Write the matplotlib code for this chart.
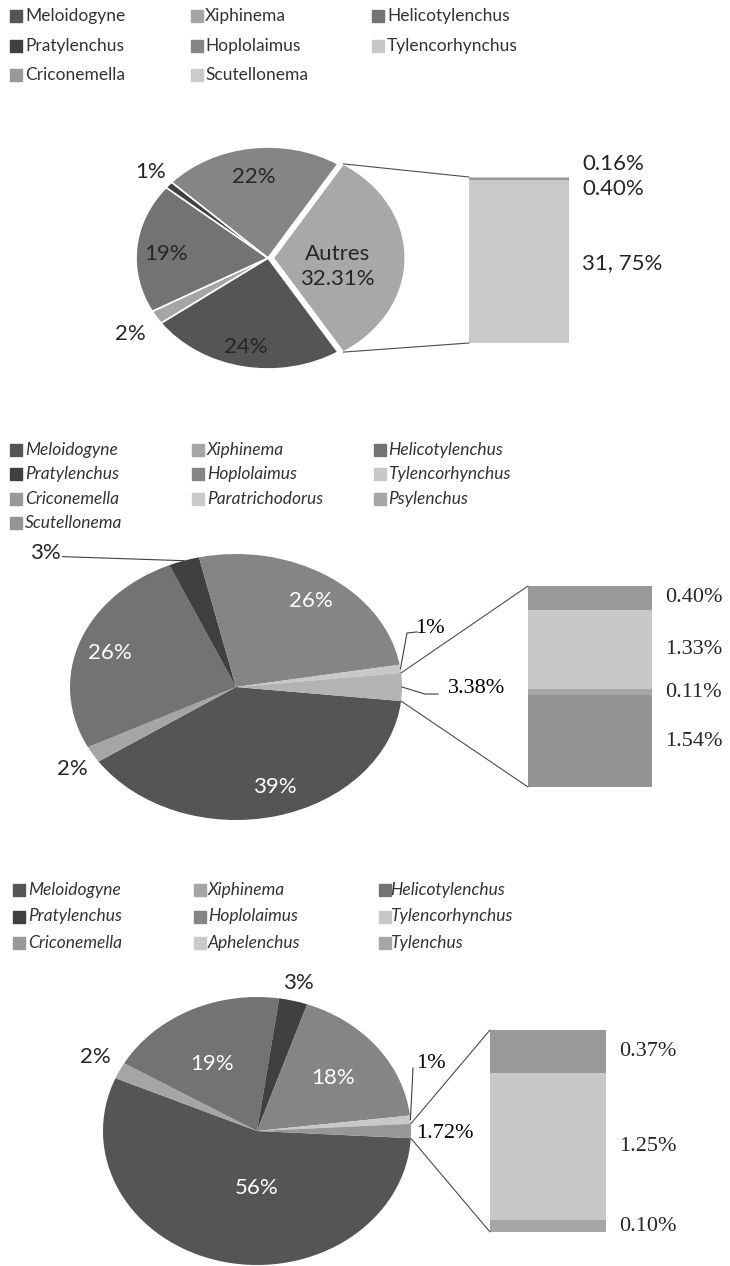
import numpy as np
import matplotlib.pyplot as plt
from matplotlib.patches import ConnectionPatch

W, H = 730, 1266

# ---------------- data ----------------
# panel 1
p1_legend = ['Meloidogyne', 'Xiphinema', 'Helicotylenchus', 'Pratylenchus',
             'Hoplolaimus', 'Tylencorhynchus', 'Criconemella', 'Scutellonema']
p1_legend_colors = ['#555555', '#a5a5a5', '#737373', '#404040',
                    '#858585', '#c8c8c8', '#999999', '#cbcbcb']
p1_pie_names = ['Meloidogyne', 'Xiphinema', 'Helicotylenchus', 'Pratylenchus',
                'Hoplolaimus', 'Autres']
p1_pie_values = [24, 2, 19, 1, 22, 32.31]
p1_pie_colors = ['#555555', '#a5a5a5', '#737373', '#404040', '#858585', '#a8a8a8']
p1_bar_names = ['Tylencorhynchus', 'Criconemella', 'Scutellonema']
p1_bar_values = [0.16, 0.40, 31.75]
p1_bar_colors = ['#c8c8c8', '#999999', '#c9c9c9']
p1_bar_text = ['0.16%', '0.40%', '31, 75%']

# panel 2
p2_legend = ['Meloidogyne', 'Xiphinema', 'Helicotylenchus', 'Pratylenchus',
             'Hoplolaimus', 'Tylencorhynchus', 'Criconemella', 'Paratrichodorus',
             'Psylenchus', 'Scutellonema']
p2_legend_colors = ['#555555', '#a5a5a5', '#737373', '#404040', '#858585',
                    '#c8c8c8', '#999999', '#cacaca', '#a6a6a6', '#939393']
p2_pie_names = ['Meloidogyne', 'Xiphinema', 'Helicotylenchus', 'Pratylenchus',
                'Hoplolaimus', 'Tylencorhynchus', 'Autres']
p2_pie_values = [39, 2, 26, 3, 26, 1, 3.38]
p2_pie_colors = ['#555555', '#a5a5a5', '#737373', '#404040', '#858585',
                 '#c8c8c8', '#b3b3b3']
p2_bar_names = ['Criconemella', 'Paratrichodorus', 'Psylenchus', 'Scutellonema']
p2_bar_values = [0.40, 1.33, 0.11, 1.54]
p2_bar_colors = ['#999999', '#c8c8c8', '#a6a6a6', '#939393']
p2_bar_text = ['0.40%', '1.33%', '0.11%', '1.54%']

# panel 3
p3_legend = ['Meloidogyne', 'Xiphinema', 'Helicotylenchus', 'Pratylenchus',
             'Hoplolaimus', 'Tylencorhynchus', 'Criconemella', 'Aphelenchus',
             'Tylenchus']
p3_legend_colors = ['#555555', '#a5a5a5', '#737373', '#404040', '#858585',
                    '#c8c8c8', '#999999', '#cacaca', '#a6a6a6']
p3_pie_names = ['Meloidogyne', 'Xiphinema', 'Helicotylenchus', 'Pratylenchus',
                'Hoplolaimus', 'Tylencorhynchus', 'Autres']
p3_pie_values = [56, 2, 19, 3, 18, 1, 1.72]
p3_pie_colors = ['#555555', '#a5a5a5', '#737373', '#404040', '#858585',
                 '#c8c8c8', '#979797']
p3_bar_names = ['Criconemella', 'Aphelenchus', 'Tylenchus']
p3_bar_values = [0.37, 1.25, 0.10]
p3_bar_colors = ['#999999', '#c8c8c8', '#a6a6a6']
p3_bar_text = ['0.37%', '1.25%', '0.10%']

SANS = 'Lato'
SERIF = 'Liberation Serif'
TXT = '#262626'
FS = 16      # pie / bar label size

fig = plt.figure(figsize=(W / 100, H / 100), dpi=100)
ov = fig.add_axes([0, 0, 1, 1])
ov.set_xlim(0, W)
ov.set_ylim(H, 0)
ov.axis('off')


def legend(names, colors, y0, dy, sq_x, tx_x, italic):
    for i, (n, c) in enumerate(zip(names, colors)):
        col, row = i % 3, i // 3
        y = y0 + row * dy
        ov.plot(sq_x[col], y, marker='s', ms=8.5, color=c, ls='')
        ov.text(tx_x[col], y, n, va='center', ha='left', fontsize=12.5,
                family=SANS, style='italic' if italic else 'normal', color='#333333')


def pie_axes(cx, cy, rx, ry):
    ax = fig.add_axes([(cx - rx) / W, 1 - (cy + ry) / H, 2 * rx / W, 2 * ry / H])
    return ax


def panel(values, colors, texts, lab, center, rx, ry, bar_vals, bar_cols,
          bar_text, bar_box, bar_dy, explode=0.0, edge=None, leaders=()):
    ax = pie_axes(center[0], center[1], rx, ry)
    tot = sum(values)
    start = -0.5 * 360 * values[-1] / tot
    ex = [0] * (len(values) - 1) + [explode]
    if edge:
        wp = dict(edgecolor=edge, linewidth=1.2)
    else:
        wp = dict(linewidth=0)
    wedges, _ = ax.pie(values, colors=colors, startangle=start, counterclock=False,
                       explode=ex, wedgeprops=wp, radius=1)
    ax.set_xlim(-1, 1)
    ax.set_ylim(-1, 1)
    ax.set_aspect('auto')
    ax.axis('off')
    for w in wedges:
        w.set_clip_on(False)
    for w, t, (r, dth, kind) in zip(wedges, texts, lab):
        mid = np.radians((w.theta1 + w.theta2) / 2 + dth)
        x = w.center[0] + r * np.cos(mid)
        y = w.center[1] + r * np.sin(mid)
        if kind == 'in':
            kw = dict(color='white', family=SANS)
        elif kind == 'serif':
            kw = dict(color='black', family=SERIF)
        else:
            kw = dict(color=TXT, family=SANS)
        ax.text(x, y, t, ha='center', va='center', fontsize=FS,
                linespacing=1.35, **kw)
    # leader lines
    for idx, pts in leaders:
        w = wedges[idx]
        mid = np.radians((w.theta1 + w.theta2) / 2)
        xs = [np.cos(mid)] + [p[0] for p in pts]
        ys = [np.sin(mid)] + [p[1] for p in pts]
        ax.plot(xs, ys, color='#404040', lw=0.8, clip_on=False)

    # bar of "others"
    x0, y0, x1, y1 = bar_box
    bx = fig.add_axes([x0 / W, 1 - y1 / H, (x1 - x0) / W, (y1 - y0) / H])
    bottoms = np.concatenate([[0], np.cumsum(bar_vals)[:-1]])
    bx.bar([0] * len(bar_vals), bar_vals, bottom=bottoms, width=1,
           color=bar_cols, linewidth=0)
    btot = sum(bar_vals)
    bx.set_xlim(-0.5, 0.5)
    bx.set_ylim(btot, 0)
    bx.axis('off')
    fam = SANS if edge else SERIF
    for b, v, t, d in zip(bottoms, bar_vals, bar_text, bar_dy):
        bx.annotate(t, xy=(1, b + v / 2), xycoords=('axes fraction', 'data'),
                    xytext=(13, d), textcoords='offset pixels', va='center',
                    ha='left', fontsize=FS, family=fam, color=TXT)

    # connectors
    w = wedges[-1]
    for th, yb in [(w.theta2, 0), (w.theta1, btot)]:
        a = np.radians(th)
        p = (w.center[0] + np.cos(a), w.center[1] + np.sin(a))
        con = ConnectionPatch(xyA=p, coordsA=ax.transData, xyB=(-0.5, yb),
                              coordsB=bx.transData, color='#4d4d4d', lw=0.8)
        fig.add_artist(con)


# ---------------- panel 1 ----------------
legend(p1_legend, p1_legend_colors, 16, 29.5, [16, 197, 378], [25, 205, 387], False)
p1_texts = [f'{v:g}%' for v in p1_pie_values[:-1]] + [f'Autres\n{p1_pie_values[-1]:.2f}%']
p1_lab = [(0.82, -1, 'dark'), (1.25, 1, 'dark'), (0.77, 3, 'dark'),
          (1.18, 0, 'dark'), (0.74, 1, 'dark'), (0.49, -9, 'dark')]
panel(p1_pie_values, p1_pie_colors, p1_texts, p1_lab, (268, 258), 132, 111,
      p1_bar_values, p1_bar_colors, p1_bar_text, (469, 177, 569, 343),
      [13, -10, -2], explode=0.04, edge='white')

# ---------------- panel 2 ----------------
legend(p2_legend, p2_legend_colors, 450, 24.3, [16, 198, 380], [25, 207, 388], True)
p2_texts = [f'{v:g}%' for v in p2_pie_values]
p2_lab = [(0.79, 3.4, 'in'), (1.165, 1.5, 'dark'), (0.80, 1, 'in'),
          (1.53, 30.5, 'dark'), (0.79, -1, 'in'), (1.25, 12.75, 'serif'),
          (1.45, -0.3, 'serif')]
p2_lead = [(3, [(-1.045, 0.98)]),
           (5, [(1.03, 0.406), (1.09, 0.414)]),
           (6, [(1.139, -0.053), (1.217, -0.053)])]
panel(p2_pie_values, p2_pie_colors, p2_texts, p2_lab, (236, 687), 166, 133,
      p2_bar_values, p2_bar_colors, p2_bar_text, (528, 586, 652, 787),
      [0, 0, 0, 0], leaders=p2_lead)

# ---------------- panel 3 ----------------
legend(p3_legend, p3_legend_colors, 890, 26.5, [19, 200, 385], [28, 208, 390], True)
p3_texts = [f'{v:g}%' for v in p3_pie_values]
p3_lab = [(0.425, 13, 'in'), (1.19, -1, 'dark'), (0.58, 4.6, 'in'),
          (1.14, 0, 'dark'), (0.63, 0, 'in'), (1.235, 19.2, 'serif'),
          (1.22, -1, 'serif')]
p3_lead = [(5, [(1.013, 0.47)])]
panel(p3_pie_values, p3_pie_colors, p3_texts, p3_lab, (257, 1131), 154, 134,
      p3_bar_values, p3_bar_colors, p3_bar_text, (490, 1030, 606, 1232),
      [0, 0, 0], leaders=p3_lead)

fig.savefig('out.png', dpi=100)
